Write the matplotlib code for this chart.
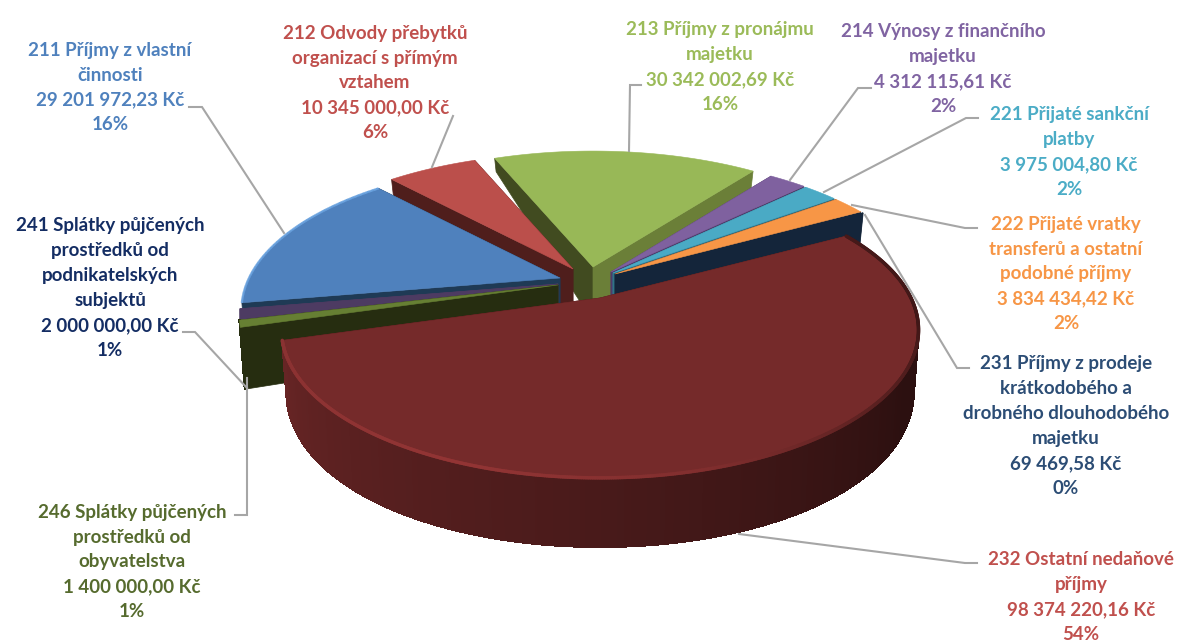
import numpy as np
import matplotlib
matplotlib.use("Agg")
import matplotlib.pyplot as plt
from matplotlib.collections import PolyCollection, LineCollection
from matplotlib.patches import Polygon
from matplotlib.colors import to_rgb

# ---- data (clockwise order round the pie, starting with 213)
codes = ["213", "214", "221", "222", "231", "232", "246", "241", "211", "212"]
values = [30342002.69, 4312115.61, 3975004.80, 3834434.42, 69469.58,
          98374220.16, 1400000.00, 2000000.00, 29201972.23, 10345000.00]
label_texts = {
    "211": "211 Příjmy z vlastní\nčinnosti\n29 201 972,23 Kč\n16%",
    "212": "212 Odvody přebytků\norganizací s přímým\nvztahem\n10 345 000,00 Kč\n6%",
    "213": "213 Příjmy z pronájmu\nmajetku\n30 342 002,69 Kč\n16%",
    "214": "214 Výnosy z finančního\nmajetku\n4 312 115,61 Kč\n2%",
    "221": "221 Přijaté sankční\nplatby\n3 975 004,80 Kč\n2%",
    "222": "222 Přijaté vratky\ntransferů a ostatní\npodobné příjmy\n3 834 434,42 Kč\n2%",
    "231": "231 Příjmy z prodeje\nkrátkodobého a\ndrobného dlouhodobého\nmajetku\n69 469,58 Kč\n0%",
    "232": "232 Ostatní nedaňové\npříjmy\n98 374 220,16 Kč\n54%",
    "241": "241 Splátky půjčených\nprostředků od\npodnikatelských\nsubjektů\n2 000 000,00 Kč\n1%",
    "246": "246 Splátky půjčených\nprostředků od\nobyvatelstva\n1 400 000,00 Kč\n1%",
}

# ---- styles and layout
START_CW = -22.3
A, B, K = 311.0, 141.0, 0.216
SX = 0.985
top_color = {"213": "#98b857", "214": "#7f619f", "221": "#4aaac5", "222": "#f79646", "231": "#14253a",
             "232": "#752a2a", "246": "#667f33", "241": "#4d3b62", "211": "#4f81bd", "212": "#bb4f4b"}
start_face = {"213": "#414b20", "214": "#4f3a6a", "221": "#2f7488", "222": "#14253a", "231": "#14253a",
              "232": "#4a1a18", "246": "#262d10", "241": "#4d3b62", "211": "#1f3a55", "212": "#4f1e1c"}
end_face = {"213": "#6b7f38", "214": "#4f3a6a", "221": "#2f7488", "222": "#14253a", "231": "#14253a",
            "232": "#4a1a18", "246": "#262d10", "241": "#4d3b62", "211": "#1f3a55", "212": "#4f1e1c"}
text_color = {"211": "#4f81bd", "212": "#c0504d", "213": "#9bbb59", "214": "#8064a2", "221": "#4bacc6",
              "222": "#f79646", "231": "#2c4d75", "232": "#c0504d", "241": "#142d63", "246": "#566b2e"}
apex = {"213": (593, 267), "212": (573, 269), "211": (560, 278), "241": (558, 284), "246": (558, 285),
        "214": (611, 272), "221": (613, 273), "222": (615, 274), "231": (617, 275), "232": (600, 298)}
draw_order = ["213", "212", "211", "241", "246", "214", "221", "222", "231", "232"]
rim_slices = ("232", "246")
label_pos = {"211": (110, 87.5), "212": (375, 83), "213": (720, 67), "214": (943, 69), "221": (1069, 152),
             "222": (1066, 274), "231": (1066, 426), "232": (1081, 597), "241": (110, 288), "246": (132, 562)}
leaders = {"211": [(189, 107), (202, 107), (284, 233)], "212": [(453, 116), (432, 167)],
           "213": [(641, 85), (630, 85), (629, 151)], "214": [(871, 88), (858, 88), (790, 180)],
           "221": [(978, 118), (966, 118), (824, 192)], "222": [(977, 228), (965, 228), (852, 205)],
           "231": [(969, 368), (957, 368), (865, 215)], "232": [(977, 563), (965, 563), (739, 534)],
           "241": [(183, 332), (195, 332), (247, 388)], "246": [(235, 515), (247, 515), (247, 378)]}


def depth(v):
    return 54.6 + 30.0 * v - 15.6 * v * v


def rim_points(code, theta):
    """Top and bottom rim points of a slice for clockwise angles theta (deg)."""
    ax0, ay0 = apex[code]
    t = np.radians(theta)
    u, v = np.sin(t), -np.cos(t)
    w = 1.0 / (1.0 - K * v)
    xt = ax0 + A * u * w
    yt = ay0 + B * v * w
    xb = ax0 + SX * A * u * w
    yb = yt + depth(v)
    return xt, yt, xb, yb


def scale(col, f):
    return tuple(np.clip(np.array(to_rgb(col)) * f, 0, 1))


plt.rcParams["font.family"] = ["Lato", "DejaVu Sans"]
fig = plt.figure(figsize=(11.79, 6.42), dpi=100)
ax = fig.add_axes([0, 0, 1, 1])
ax.set_xlim(0, 1179)
ax.set_ylim(642, 0)
ax.axis("off")

shares = 360.0 * np.array(values) / np.sum(values)
edges = START_CW + np.concatenate([[0], np.cumsum(shares)])
span = {c: (edges[i], edges[i + 1]) for i, c in enumerate(codes)}

z = 2
for code in draw_order:
    a0, a1 = span[code]
    n = max(3, int((a1 - a0) * 3))
    th = np.linspace(a0, a1, n)
    xt, yt, xb, yb = rim_points(code, th)
    ax0, ay0 = apex[code]
    ybottom_apex = ay0 + depth(0.0)
    # cut faces
    ax.add_patch(Polygon([(ax0, ay0), (xt[0], yt[0]), (xb[0], yb[0]), (ax0, ybottom_apex)],
                         closed=True, fc=start_face[code], ec=start_face[code], lw=0.5, zorder=z))
    z += 1
    ax.add_patch(Polygon([(ax0, ay0), (xt[-1], yt[-1]), (xb[-1], yb[-1]), (ax0, ybottom_apex)],
                         closed=True, fc=end_face[code], ec=end_face[code], lw=0.5, zorder=z))
    z += 1
    mid = 0.5 * (th[:-1] + th[1:]) % 360
    # outer rim with shading
    if code in rim_slices:
        quads = [[(xt[i], yt[i]), (xt[i + 1], yt[i + 1]), (xb[i + 1], yb[i + 1]), (xb[i], yb[i])]
                 for i in range(n - 1)]
        if code == "232":
            f = np.interp(mid, [60, 120, 180, 253], [0.36, 0.38, 0.62, 0.88])
            cols = [scale(top_color[code], x) for x in f]
        else:
            cols = [start_face[code]] * (n - 1)
        ax.add_collection(PolyCollection(quads, facecolors=cols, edgecolors=cols, linewidths=1.0,
                                         antialiaseds=False, zorder=z))
        z += 1
    # top surface
    pts = [(ax0, ay0)] + list(zip(xt, yt))
    ax.add_patch(Polygon(pts, closed=True, fc=top_color[code], ec=top_color[code], lw=0.4, zorder=z))
    z += 1
    # bevel along the outer edge of the top
    if code in ("232", "211"):
        segs = [[(xt[i], yt[i]), (xt[i + 1], yt[i + 1])] for i in range(n - 1)]
        if code == "232":
            f = np.interp(mid, [60, 100, 135, 165, 200, 253], [0.6, 0.55, 0.8, 1.1, 1.25, 1.18])
            bc = [scale(top_color[code], x) for x in f]
            ax.add_collection(LineCollection(segs, colors=bc, linewidths=2.5, zorder=z, capstyle="round"))
        else:
            ax.add_collection(LineCollection(segs, colors=["#6aa3e0"] * (n - 1), linewidths=1.6, zorder=z))
        z += 1

for code, pts in leaders.items():
    xs, ys = zip(*pts)
    ax.plot(xs, ys, color="#a6a6a6", lw=1.5, zorder=z, solid_joinstyle="miter")
z += 1
for code, (x, y) in label_pos.items():
    ax.text(x, y, label_texts[code], color=text_color[code], ha="center", va="center",
            fontsize=13.5, fontweight="bold", linespacing=1.57, zorder=z)

fig.savefig("out.png", dpi=100, facecolor="white")
